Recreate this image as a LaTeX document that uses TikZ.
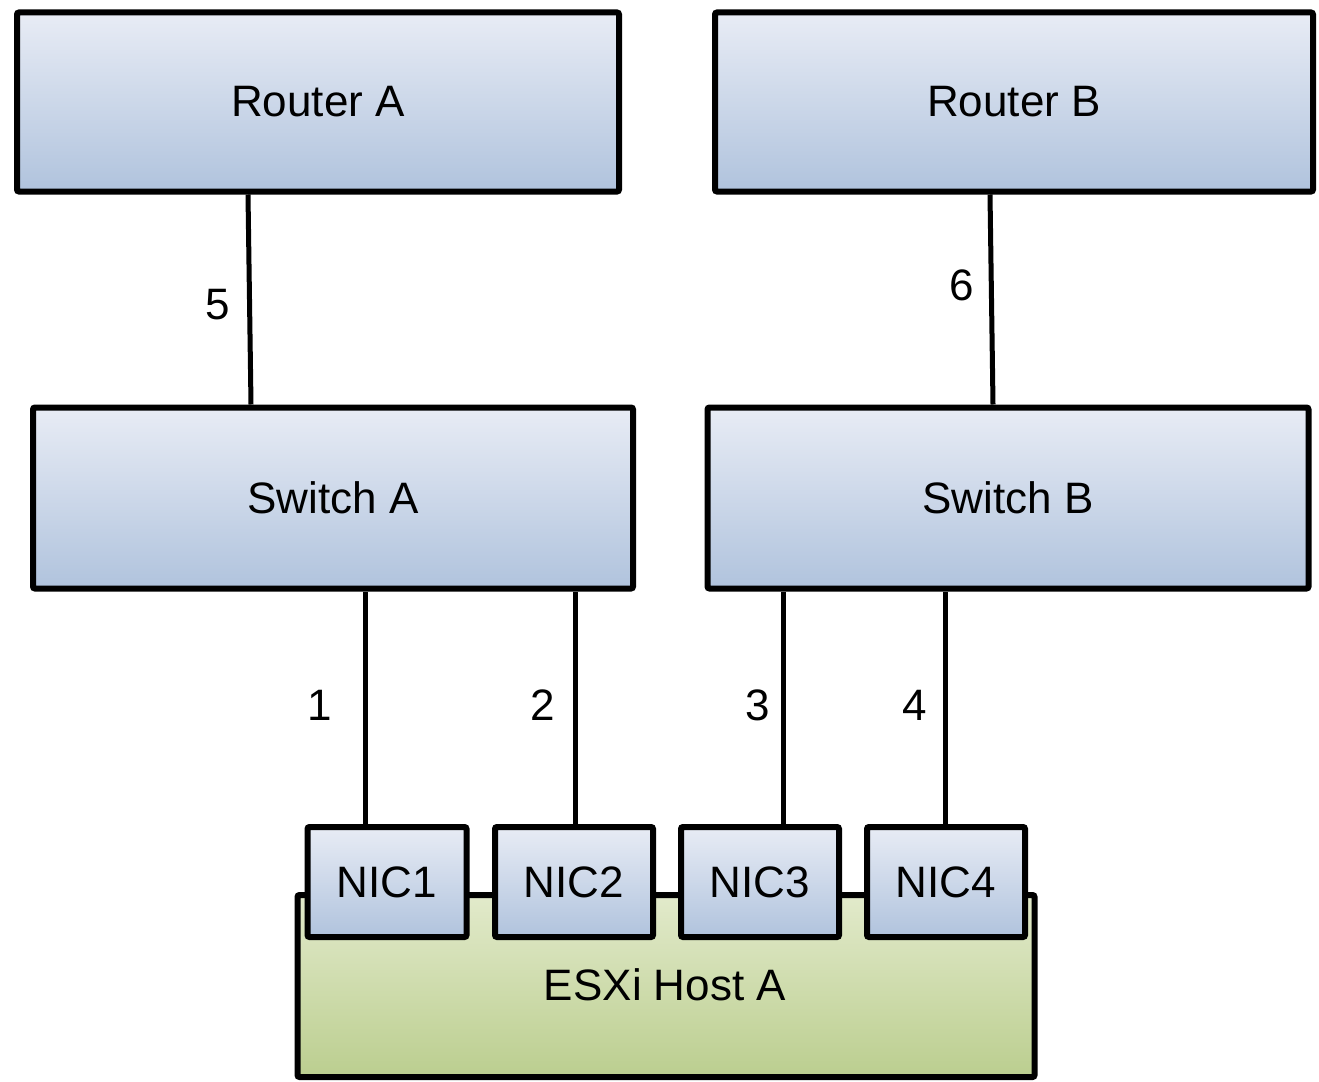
\documentclass[tikz,border=0pt]{standalone}
\usepackage{fontspec}
\setmainfont{Liberation Sans}
\begin{document}
\begin{tikzpicture}[x=1pt,y=-1pt,
  box/.style={draw=black, line width=6pt, rounded corners=2pt, inner sep=0pt,
    top color=boxtop, bottom color=boxbot, font=\fontsize{44}{48}\selectfont},
  hostbox/.style={box, top color=hosttop, bottom color=hostbot},
  link/.style={draw=black, line width=5pt},
  tag/.style={font=\fontsize{44}{48}\selectfont, inner sep=0pt}]
\definecolor{boxtop}{HTML}{E8ECF5}
\definecolor{boxbot}{HTML}{B0C3DD}
\definecolor{hosttop}{HTML}{E2EACB}
\definecolor{hostbot}{HTML}{BBCE8F}
\useasboundingbox (0,0) rectangle (1319,1081);

% routers and switches
\node[box, minimum width=602pt, minimum height=179pt] (ra) at (318,102) {Router A};
\node[box, minimum width=598pt, minimum height=179pt] (rb) at (1014,102) {Router B};
\node[box, minimum width=600pt, minimum height=181pt] (sa) at (333,498) {Switch A};
\node[box, minimum width=601pt, minimum height=181pt] (sb) at (1008,498) {Switch B};

% host with its network cards
\node[hostbox, minimum width=737pt, minimum height=182pt, text depth=0pt] (host) at (666,986) {};
\node[tag] (hostlabel) at (665,985) {ESXi Host A};
\node[box, minimum width=159pt, minimum height=110pt] (nic1) at (387,882) {NIC1};
\node[box, minimum width=158pt, minimum height=110pt] (nic2) at (574,882) {NIC2};
\node[box, minimum width=158pt, minimum height=110pt] (nic3) at (760,882) {NIC3};
\node[box, minimum width=158pt, minimum height=110pt] (nic4) at (946,882) {NIC4};

% uplinks
\draw[link] ([xshift=-70pt]ra.south) -- ([xshift=-82pt]sa.north);
\draw[link] ([xshift=-24pt]rb.south) -- ([xshift=-15pt]sb.north);
\node[tag] (l5) at (218,305) {5};
\node[tag] (l6) at (962,285) {6};

% host links
\draw[link] ([xshift=-22pt]nic1.north) -- ([xshift=-22pt]nic1.north |- sa.south);
\draw[link] ([xshift=1pt]nic2.north) -- ([xshift=1pt]nic2.north |- sa.south);
\draw[link] ([xshift=23pt]nic3.north) -- ([xshift=23pt]nic3.north |- sb.south);
\draw[link] ([xshift=-1pt]nic4.north) -- ([xshift=-1pt]nic4.north |- sb.south);
\node[tag] (l1) at (320,705) {1};
\node[tag] (l2) at (543,705) {2};
\node[tag] (l3) at (758,705) {3};
\node[tag] (l4) at (915,705) {4};
\end{tikzpicture}
\end{document}
